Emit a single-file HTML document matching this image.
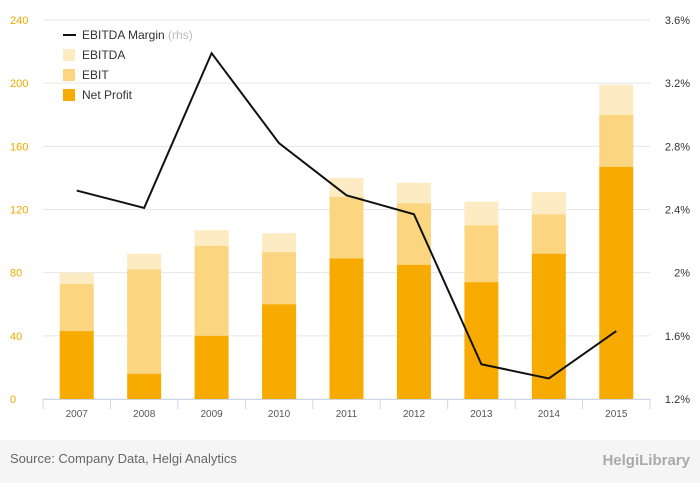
<!DOCTYPE html>
<html><head><meta charset="utf-8"><style>
body{margin:0;background:#fff;font-family:"Liberation Sans",sans-serif}
#wrap{position:relative;width:700px;height:483px;background:#fff}
svg text{font-family:"Liberation Sans",sans-serif}
</style></head><body>
<div id="wrap">
<svg id="chart" width="700" height="483"></svg>
</div>
<script>
const categories=["2007","2008","2009","2010","2011","2012","2013","2014","2015"];
const netProfit=[43,16,40,60,89,85,74,92,147];
const ebit=[73,82,97,93,128,124,110,117,180];
const ebitda=[80,92,107,105,140,137,125,131,199];
const margin=[2.52,2.41,3.39,2.82,2.49,2.37,1.42,1.33,1.63];
const leftTicks=[0,40,80,120,160,200,240];
const rightTicks=[1.2,1.6,2.0,2.4,2.8,3.2,3.6];
const rightLabels=["1.2%","1.6%","2%","2.4%","2.8%","3.2%","3.6%"];

const NS="http://www.w3.org/2000/svg";
const svg=document.getElementById('chart');
const X0=43,X1=650,Y0=399,Y1=20;
const step=(X1-X0)/categories.length;
const xC=i=>X0+step*(i+0.5);
const yL=v=>Y0-(v-0)/(240-0)*(Y0-Y1);
const yR=v=>Y0-(v-1.2)/(3.6-1.2)*(Y0-Y1);
function mk(t,a){const e=document.createElementNS(NS,t);for(const k in a)e.setAttribute(k,a[k]);svg.appendChild(e);return e;}

leftTicks.forEach((t,i)=>{
 const g=mk('line',{x1:X0,x2:X1,y1:yL(t),y2:yL(t),stroke:'#e6e6e6','stroke-width':1});
 
 
 const l=mk('text',{x:10,y:yL(t)+4,'font-size':11,fill:'#f0a800'});l.textContent=t;
 
 
});
rightTicks.forEach((t,i)=>{
 const l=mk('text',{x:690,y:yR(t)+4,'font-size':11,fill:'#333','text-anchor':'end'});l.textContent=rightLabels[i];
 
 
});
const bw=34;
categories.forEach((c,i)=>{
 const x=xC(i)-bw/2;
 const r1=mk('rect',{x:x,y:yL(ebitda[i]),width:bw,height:yL(ebit[i])-yL(ebitda[i]),fill:'#fdebc3'});
 
 
 const r2=mk('rect',{x:x,y:yL(ebit[i]),width:bw,height:yL(netProfit[i])-yL(ebit[i]),fill:'#fcd580'});
 
 
 const r3=mk('rect',{x:x,y:yL(netProfit[i]),width:bw,height:Y0-yL(netProfit[i]),fill:'#f7ab00'});
 
 
 const l=mk('text',{x:xC(i),y:417,'font-size':10,fill:'#555','text-anchor':'middle'});l.textContent=c;
 
 
});
const ax=mk('line',{x1:X0,x2:X1,y1:Y0+0.5,y2:Y0+0.5,stroke:'#ccd6eb'});


for(let i=0;i<=categories.length;i++){
 const t=mk('line',{x1:X0+step*i,x2:X0+step*i,y1:Y0,y2:Y0+10,stroke:'#ccd6eb'});
 
 
}
const pts=margin.map((m,i)=>xC(i)+','+yR(m)).join(' ');
const pl=mk('polyline',{points:pts,fill:'none',stroke:'#111','stroke-width':2});



const leg=[["line","#111","EBITDA Margin"],["box","#fdebc3","EBITDA"],["box","#fcd580","EBIT"],["box","#f7ab00","Net Profit"]];
leg.forEach((e,i)=>{
 const y=35+i*20;
 if(e[0]=="line"){const s=mk('line',{x1:63,x2:76,y1:y,y2:y,stroke:e[1],'stroke-width':2});}
 else{const s=mk('rect',{x:63,y:y-6,width:12,height:12,fill:e[1]});}
 const t=mk('text',{x:82,y:y+4,'font-size':12,fill:'#333'});t.textContent=e[2];
 
 
 if(i==0){const r=mk('tspan',{fill:'#bbb'});r.textContent=' (rhs)';t.appendChild(r);}
});
const ft=mk('rect',{x:0,y:440,width:700,height:43,fill:'#f5f5f5'});


const src=mk('text',{x:10,y:463,'font-size':13,fill:'#666'});src.textContent='Source: Company Data, Helgi Analytics';


const logo=mk('text',{x:690,y:465,'font-size':15,fill:'#aaa','text-anchor':'end','font-weight':'bold'});logo.textContent='HelgiLibrary';


</script>
</body></html>
